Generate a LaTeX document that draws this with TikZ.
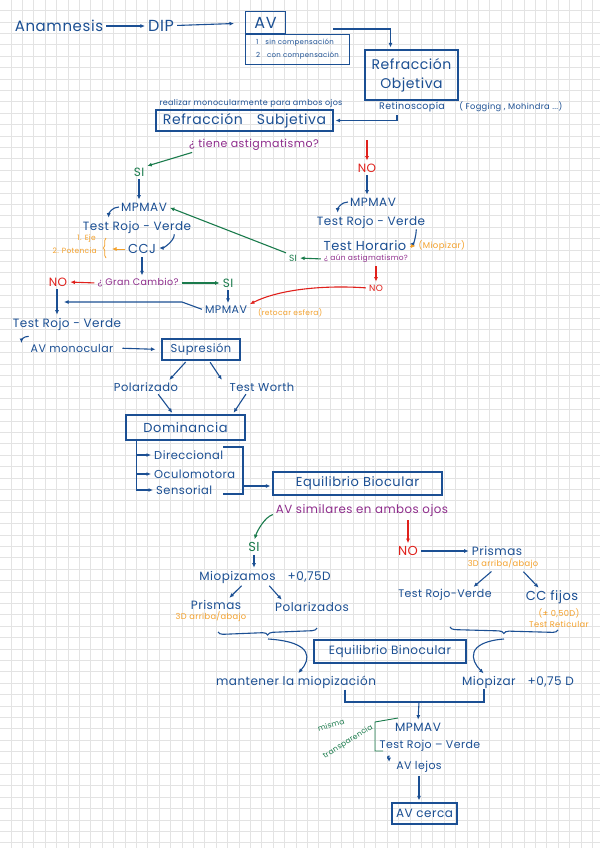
\documentclass[tikz,border=0pt]{standalone}
\usepackage{fontspec}
\setmainfont{Poppins}[LetterSpace=4]
\usepackage{tikz}
\usetikzlibrary{arrows.meta,positioning,decorations.pathreplacing}
\definecolor{ink}{HTML}{1B4F93}
\definecolor{leaf}{HTML}{1A7B4C}
\definecolor{alarm}{HTML}{E0201B}
\definecolor{plum}{HTML}{8E2C8C}
\definecolor{amber}{HTML}{F4A12B}
\definecolor{gridgrey}{HTML}{E3E3E3}
\newcommand{\fsz}[1]{\fontsize{#1}{#1}\selectfont}

\begin{document}
\begin{tikzpicture}[x=1pt,y=-1pt,>={Latex[length=4.5pt,width=4pt]},every node/.style={text=ink,inner sep=1pt},box/.style={draw=ink,line width=1.1pt,inner sep=0pt},ln/.style={ink,line width=1.1pt},arr/.style={->,ln,shorten >=2pt,shorten <=2pt},garr/.style={arr,leaf},rarr/.style={arr,alarm},oarr/.style={arr,amber,line width=.8pt},grd/.style={gridgrey,line width=.9pt},brc/.style={ln,decorate,decoration={brace,amplitude=#1}}]
\useasboundingbox (0,0) rectangle (600,848);
\fill[white] (0,0) rectangle (600,848);
\foreach \k in {0,...,51} \draw[grd] (11+11.4*\k,0) -- (11+11.4*\k,848);
\foreach \k in {0,...,73} \draw[grd] (0,10.6+11.4*\k) -- (600,10.6+11.4*\k);

\node[font=\fsz{15}] (anam) at (59,26) {Anamnesis};
\node[font=\fsz{16}] (dip) at (161,26) {DIP};
\node[box,minimum width=104,minimum height=30,anchor=north west,align=left,font=\fontsize{7}{13}\selectfont] (avlist) at (245,34) {1\quad sin compensación\\2\quad con compensación};
\node[box,minimum width=40,minimum height=22,anchor=south west,font=\fsz{16}] (av) at (avlist.north west) {AV};
\node[box,minimum width=93,minimum height=50,align=center,font=\fontsize{14}{19}\selectfont] (refobj) at (411.5,75) {Refracción\\Objetiva};
\node[font=\fsz{9.5}] (retino) at (412,107) {Retinoscopía};
\node[font=\fsz{8.3},right=12pt of retino] (fog) {( Fogging , Mohindra ...)};
\node[font=\fsz{8}] (realizar) at (251,103) {realizar monocularmente para ambos ojos};
\node[box,minimum width=177,minimum height=21,font=\fsz{14}] (refsub) at (244.5,120.5) {Refracción\quad Subjetiva};
\coordinate (avout) at (333,29);
\draw[arr] (anam) -- (dip);
\draw[arr,shorten >=11pt] (dip) -- (av);
\draw[arr,shorten <=0pt] (avout) -| ([xshift=-21]refobj.north);
\draw[arr] ([xshift=-15]retino.south) |- (refsub.east);

\node[text=plum,font=\fsz{11}] (astq) at (254,145) {¿ tiene astigmatismo?};
\node[text=leaf,font=\fsz{12}] (siL) at (139,172) {SI};
\node[text=alarm,font=\fsz{12}] (noR) at (367,168) {NO};
\coordinate (noRtop) at (367,138);
\draw[garr] ([xshift=6]astq.south west) -- (siL.north east);
\draw[rarr] (noRtop) -- (noR.north);

\node[font=\fsz{12}] (mpR) at (373,202) {MPMAV};
\node[font=\fsz{12}] (trvR) at (371,222) {Test Rojo - Verde};
\node[font=\fsz{13}] (thor) at (365,246) {Test Horario};
\node[text=amber,font=\fsz{8.5},right=10pt of thor] (miop) {(Miopizar)};
\node[text=plum,font=\fsz{7.5}] (aunq) at (366,259) {¿ aún astigmatismo?};
\node[text=leaf,font=\fsz{9}] (siM) at (293,258) {SI};
\node[text=alarm,font=\fsz{9}] (noS) at (376,288) {NO};
\draw[arr] (noR.south) -- (noR.south |- mpR.north);
\draw[arr,shorten <=0pt] ([xshift=-1]mpR.west) .. controls +(-7,0) and +(0,-6) .. ([xshift=22]trvR.north west);
\draw[arr,shorten <=0pt] ([xshift=-10]trvR.south east) .. controls +(0,6) and +(6,0) .. ([yshift=2]thor.east);
\draw[oarr] (thor.east) -- (miop.west);
\draw[garr] (aunq.west) -- (siM.east);
\draw[rarr] (noS.north |- aunq.south) -- (noS.north);

\node[font=\fsz{12}] (mpL) at (144,207) {MPMAV};
\node[font=\fsz{12}] (trvL) at (137,227) {Test Rojo - Verde};
\node[font=\fsz{13}] (ccj) at (142,249) {CCJ};
\node[text=amber,font=\fsz{7.5},anchor=east] (eje) at (97,239) {1. Eje};
\node[text=amber,font=\fsz{7.5},anchor=east] (pot) at (98,251) {2. Potencia};
\coordinate (ccjin) at (110,249);
\node[text=plum,font=\fsz{9.5}] (gcq) at (138,283) {¿ Gran Cambio?};
\node[text=alarm,font=\fsz{12}] (noL) at (58,282) {NO};
\node[text=leaf,font=\fsz{12}] (siB) at (228,283) {SI};
\node[font=\fsz{11}] (mpB) at (226,310) {MPMAV};
\node[text=amber,font=\fsz{7.5},anchor=west] (resf) at (257,313) {(retocar esfera)};
\node[font=\fsz{12}] (trvB) at (67,324) {Test Rojo - Verde};
\coordinate (joinL) at (62,302);
\draw[arr] (siL.south) -- (siL.south |- mpL.north);
\draw[garr] (siM.north west) -- (mpL.east);
\draw[arr,shorten <=0pt] ([xshift=-1]mpL.west) .. controls +(-7,0) and +(0,-6) .. ([xshift=27]trvL.north west);
\draw[arr,shorten <=0pt] ([xshift=-18]trvL.south east) .. controls +(0,7) and +(6,0) .. ([yshift=1]ccj.east);
\draw[brc=2.5pt,amber,line width=.8pt] (106,258) -- (106,238);
\draw[oarr] (ccj.west) -- (ccjin);
\draw[arr] (ccj.south) -- (ccj.south |- gcq.north);
\draw[rarr] (gcq.west) -- (noL.east);
\draw[garr] (gcq.east) -- (siB.west);
\draw[arr] (siB.south) -- (siB.south |- mpB.north);
\draw[rarr] (noS.west) .. controls (325,285) and (280,289) .. (mpB.north east);
\draw[arr] ([xshift=-1]noL.south) -- ([xshift=-1]noL.south |- trvB.north);
\draw[arr] (mpB.west) -- (182,302) -- (joinL);

\node[font=\fsz{11}] (avmono) at (72,348) {AV monocular};
\node[box,minimum width=78,minimum height=21,font=\fsz{11.5}] (supr) at (201,349.5) {Supresión};
\node[font=\fsz{11.5}] (polz) at (146,387) {Polarizado};
\node[font=\fsz{11.5}] (worth) at (262,387) {Test Worth};
\node[box,minimum width=119,minimum height=25,font=\fsz{13}] (domi) at (185.5,427.5) {Dominancia};
\node[font=\fsz{11.5},anchor=west] (dir) at (153,455) {Direccional};
\node[font=\fsz{11.5},anchor=west] (ocu) at (153,474) {Oculomotora};
\node[font=\fsz{11.5},anchor=west] (sen) at (155,490) {Sensorial};
\node[box,minimum width=169,minimum height=23,font=\fsz{13}] (eqbi) at (357.5,483.5) {Equilibrio Biocular};
\coordinate (brkout) at (243,486);
\draw[arr,shorten <=0pt] ([xshift=17,yshift=-5]trvB.south west) .. controls +(-5,0) and +(0,-5) .. ([xshift=-8,yshift=3]avmono.west);
\draw[arr,shorten <=8pt,shorten >=6pt] (avmono.east) -- (supr.west);
\draw[arr] ([xshift=-14]supr.south) -- ([xshift=22]polz.north);
\draw[arr] ([xshift=8]supr.south) -- ([xshift=-39]worth.north);
\draw[arr] ([xshift=11]polz.south) -- ([xshift=-12]domi.north);
\draw[arr] ([xshift=-15]worth.south) -- ([xshift=47]domi.north);
\draw[arr,shorten <=0pt] ([xshift=11]domi.south west) |- (dir.west);
\draw[arr,shorten <=0pt] ([xshift=11]domi.south west) |- (ocu.west);
\draw[arr,shorten <=0pt] ([xshift=11]domi.south west) |- (sen.west);
\draw[ln] (223,447) -| (243,494) -- (223,494);
\draw[arr,shorten <=0pt] (brkout) -- (eqbi.west |- brkout);

\node[text=plum,font=\fsz{11.8}] (avsim) at (362,511) {AV similares en ambos ojos};
\node[text=leaf,font=\fsz{13}] (siC) at (254,547) {SI};
\node[text=alarm,font=\fsz{13}] (noC) at (408,551) {NO};
\node[font=\fsz{12}] (miopz) at (265,577) {Miopizamos\quad +0,75D};
\node[font=\fsz{12}] (prisL) at (216,605) {Prismas};
\node[text=amber,font=\fsz{8.3}] (prisLsub) at (211,617) {3D arriba/abajo};
\node[font=\fsz{12}] (polzs) at (312,607) {Polarizados};
\node[font=\fsz{12}] (prisR) at (497,551) {Prismas};
\node[text=amber,font=\fsz{8.3}] (prisRsub) at (503,564) {3D arriba/abajo};
\node[font=\fsz{11}] (trvC) at (445,595) {Test Rojo-Verde};
\node[font=\fsz{13}] (ccf) at (552,597) {CC fijos};
\node[text=amber,font=\fontsize{8.3}{10.5}\selectfont,align=center] (ccfsub) at (559,618) {(± 0,50D)\\Test Reticular};
\draw[garr] ([yshift=-3]avsim.west) .. controls +(-10,3) and +(3,-10) .. (siC.north);
\draw[rarr] (noC.north |- avsim.south) -- (noC.north);
\draw[arr] (siC.south) -- (siC.south |- miopz.north);
\draw[arr] ([xshift=-22]miopz.south) -- ([xshift=12]prisL.north);
\draw[arr] ([xshift=3]miopz.south) -- ([xshift=-29]polzs.north);
\draw[arr] (noC.east) -- (prisR.west);
\draw[arr] ([xshift=-10]prisRsub.south) -- ([xshift=27]trvC.north);
\draw[arr] ([xshift=19]prisRsub.south) -- ([xshift=-12]ccf.north);

\node[box,minimum width=152,minimum height=23,font=\fsz{12}] (eqbn) at (390,651.5) {Equilibrio Binocular};
\node[font=\fsz{12}] (mant) at (296,682) {mantener la miopización};
\node[font=\fsz{12}] (mzr) at (518,682) {Miopizar\quad +0,75 D};
\coordinate (braceL) at (268,639);
\coordinate (braceR) at (504,639);
\coordinate (merge) at (419,702);
\draw[brc=5pt] (317,628) -- (218,632);
\draw[brc=5pt] (558,630) -- (450,627);
\draw[arr,shorten <=0pt] (braceL) .. controls (315,642) and (310,660) .. ([xshift=1]mant.north);
\draw[arr,shorten <=0pt] (braceR) .. controls (466,642) and (470,660) .. ([xshift=-33]mzr.north);
\draw[ln] ([xshift=49]mant.south) |- (merge) -| ([xshift=-34]mzr.south);

\node[font=\fsz{12}] (mpF) at (418,727) {MPMAV};
\node[font=\fsz{11}] (trvF) at (430,746) {Test Rojo – Verde};
\node[font=\fsz{11}] (avlej) at (419,767) {AV lejos};
\node[box,minimum width=65,minimum height=21,font=\fsz{12}] (avcer) at (424.5,813.5) {AV cerca};
\node[text=leaf,rotate=18,font=\fsz{7.5}] (misma) at (331,725) {misma};
\node[text=leaf,rotate=32,font=\fsz{7.5}] (transp) at (348,742) {transparencia};
\draw[arr,shorten <=0pt] (merge) -- (mpF.north);
\draw[leaf,line width=.9pt] (398,718) -- (375,722) -- (375,751) -- (383,751);
\draw[arr,shorten <=0pt] ([xshift=11,yshift=-3]trvF.south west) .. controls +(-4,1) and +(0,-4) .. ([xshift=-6,yshift=3]avlej.west);
\draw[arr] (avlej.south) -- (avlej.south |- avcer.north);
\end{tikzpicture}
\end{document}
